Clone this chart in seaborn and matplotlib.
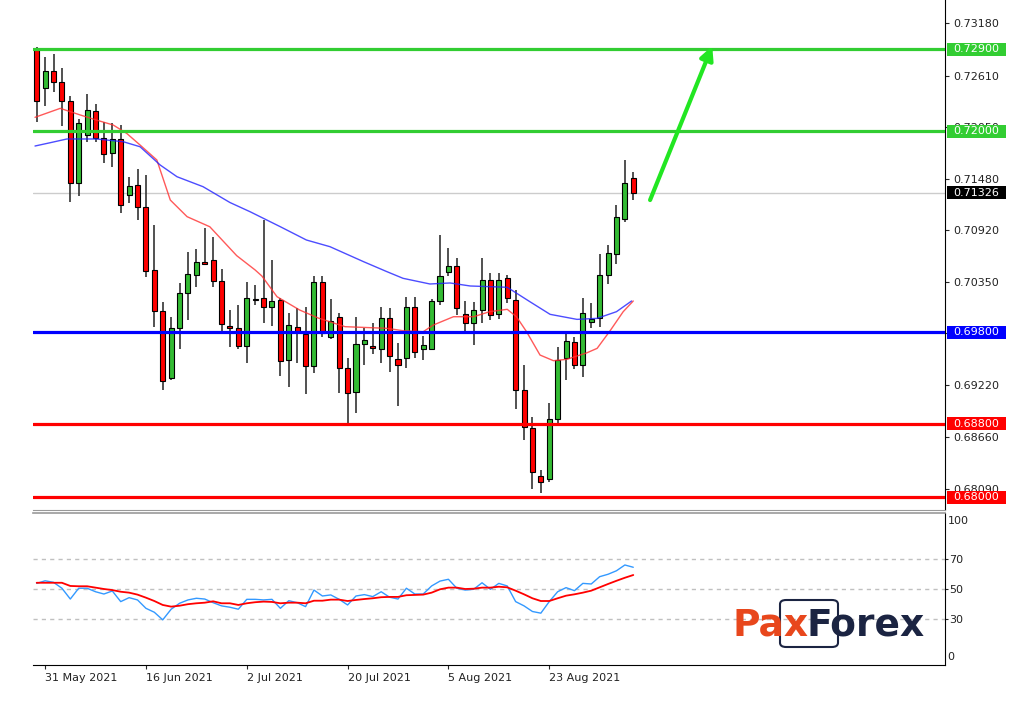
import numpy as np
import matplotlib.pyplot as plt
import seaborn as sns
from matplotlib.patches import Rectangle, FancyBboxPatch
from matplotlib.transforms import blended_transform_factory

sns.set_style('white')
plt.rcParams['font.family'] = ['DejaVu Sans']

# daily candles, 28 May 2021 -> 6 Sep 2021 (bar 0..71)
opens = [0.72889, 0.72477, 0.72663, 0.72536, 0.72335, 0.71431, 0.71959, 0.72225, 0.71923, 0.71759,
         0.71916, 0.71303, 0.71409, 0.71169, 0.70483, 0.70038, 0.69298, 0.69845, 0.70228, 0.70428,
         0.70570, 0.70592, 0.70366, 0.69873, 0.69845, 0.69651, 0.70166, 0.70180, 0.70075, 0.70155,
         0.69498, 0.69856, 0.69783, 0.69433, 0.70351, 0.69753, 0.69972, 0.69408, 0.69152, 0.69670,
         0.69651, 0.69615, 0.69961, 0.69509, 0.69517, 0.70075, 0.69615, 0.69615, 0.70144, 0.70464,
         0.70526, 0.70001, 0.69900, 0.70045, 0.70373, 0.69998, 0.70399, 0.70155, 0.69170, 0.68751,
         0.68233, 0.68193, 0.68853, 0.69517, 0.69692, 0.69444, 0.69917, 0.69954, 0.70431, 0.70658,
         0.71037, 0.71486]
highs = [0.72922, 0.72816, 0.72845, 0.72689, 0.72386, 0.72131, 0.72405, 0.72298, 0.72105, 0.72094,
         0.72069, 0.71503, 0.71584, 0.71522, 0.70975, 0.70136, 0.69972, 0.70337, 0.70676, 0.70709,
         0.70939, 0.70847, 0.70490, 0.70045, 0.70100, 0.70355, 0.70319, 0.71030, 0.70592, 0.70173,
         0.70016, 0.70064, 0.70075, 0.70417, 0.70417, 0.70162, 0.70016, 0.69517, 0.69965, 0.69845,
         0.69900, 0.70075, 0.70064, 0.69681, 0.70184, 0.70191, 0.69761, 0.70162, 0.70871, 0.70720,
         0.70614, 0.70147, 0.70136, 0.70611, 0.70453, 0.70453, 0.70428, 0.70264, 0.69444, 0.68871,
         0.68295, 0.69031, 0.69637, 0.69816, 0.69753, 0.70173, 0.70118, 0.70660, 0.70756, 0.71194,
         0.71686, 0.71558]
lows = [0.72105, 0.72280, 0.72433, 0.72058, 0.71230, 0.71292, 0.71886, 0.71886, 0.71650, 0.71613,
        0.71103, 0.71219, 0.71030, 0.70403, 0.69863, 0.69170, 0.69280, 0.69615, 0.69936, 0.70300,
        0.70534, 0.70300, 0.69808, 0.69644, 0.69615, 0.69462, 0.70100, 0.69906, 0.69870, 0.69323,
        0.69206, 0.69462, 0.69126, 0.69359, 0.69753, 0.69725, 0.69141, 0.68806, 0.68922, 0.69444,
        0.69564, 0.69462, 0.69370, 0.68995, 0.69414, 0.69517, 0.69498, 0.69608, 0.70098, 0.70417,
        0.69991, 0.69797, 0.69662, 0.69900, 0.69936, 0.69943, 0.70118, 0.68959, 0.68623, 0.68084,
        0.68047, 0.68167, 0.68806, 0.69280, 0.69397, 0.69309, 0.69845, 0.69856, 0.70330, 0.70548,
        0.71011, 0.71248]
closes = [0.72335, 0.72659, 0.72536, 0.72335, 0.71431, 0.72087, 0.72236, 0.71923, 0.71752, 0.71916,
          0.71194, 0.71402, 0.71175, 0.70475, 0.70038, 0.69272, 0.69845, 0.70228, 0.70436, 0.70570,
          0.70548, 0.70366, 0.69889, 0.69848, 0.69657, 0.70180, 0.70158, 0.70075, 0.70147, 0.69487,
          0.69881, 0.69816, 0.69433, 0.70351, 0.69797, 0.69928, 0.69408, 0.69141, 0.69673, 0.69717,
          0.69626, 0.69961, 0.69545, 0.69444, 0.70075, 0.69583, 0.69659, 0.70144, 0.70419, 0.70526,
          0.70064, 0.69906, 0.70045, 0.70373, 0.69991, 0.70373, 0.70173, 0.69170, 0.68762, 0.68270,
          0.68167, 0.68853, 0.69498, 0.69709, 0.69444, 0.70016, 0.69947, 0.70431, 0.70665, 0.71066,
          0.71431, 0.71326]
bars = np.arange(len(opens))

date_ticks = [1, 13, 25, 37, 49, 61]
date_labels = ['31 May 2021', '16 Jun 2021', '2 Jul 2021', '20 Jul 2021', '5 Aug 2021', '23 Aug 2021']

# moving averages (bar position, price)
ma_fast_x = [-0.2, 2.8, 5.2, 7.1, 9.1, 10.7, 12.3, 14.3, 15.9, 17.9, 20.6, 23.8, 26.0, 26.8, 28.6, 31.3, 33.5,
             36.7, 41.7, 43.6, 46.0, 47.2, 49.6, 52.0, 53.9, 56.0, 57.1, 58.3, 59.9, 61.5, 63.1, 65.5, 66.7,
             68.3, 69.8, 71.0]
ma_fast = [0.72153, 0.72251, 0.72178, 0.72123, 0.72069, 0.71978, 0.71850, 0.71686, 0.71248, 0.71066, 0.70956,
           0.70640, 0.70483, 0.70417, 0.70191, 0.70045, 0.69958, 0.69863, 0.69845, 0.69819, 0.69808, 0.69881,
           0.69972, 0.69972, 0.70027, 0.70053, 0.69972, 0.69808, 0.69553, 0.69491, 0.69506, 0.69578, 0.69626,
           0.69826, 0.70027, 0.70144]
ma_slow_x = [-0.2, 1.6, 3.6, 7.1, 10.3, 12.3, 14.7, 16.7, 19.8, 23.0, 25.4, 29.0, 32.1, 34.9, 38.9, 41.7, 43.6,
             46.8, 49.2, 51.6, 56.0, 58.7, 61.1, 64.3, 66.7, 69.0, 70.8]
ma_slow = [0.71839, 0.71875, 0.71916, 0.71916, 0.71886, 0.71831, 0.71631, 0.71503, 0.71394, 0.71221, 0.71120,
           0.70956, 0.70811, 0.70738, 0.70574, 0.70464, 0.70392, 0.70330, 0.70341, 0.70308, 0.70294, 0.70136,
           0.69998, 0.69943, 0.69954, 0.70027, 0.70144]

# RSI and its signal line, one value per bar
rsi = [53.7, 55.4, 54.4, 50.5, 43.4, 50.5, 50.5, 48.2, 46.7, 48.7,
       41.7, 44.3, 42.8, 37.3, 34.7, 29.7, 36.7, 40.6, 42.8, 43.9,
       43.4, 41.0, 38.9, 38.0, 36.7, 43.2, 43.2, 42.8, 43.2, 37.3,
       42.3, 41.0, 38.4, 49.3, 45.4, 46.1, 43.2, 39.5, 45.4, 46.3,
       45.0, 48.2, 44.6, 43.4, 50.5, 46.7, 46.7, 52.0, 55.2, 56.4,
       50.5, 49.3, 49.8, 54.1, 49.8, 53.7, 52.0, 41.7, 38.9, 35.2,
       34.1, 41.7, 48.2, 50.9, 48.9, 53.7, 53.3, 58.1, 59.7, 62.0,
       65.8, 64.3]
rsi_signal = [54.1, 54.1, 54.1, 54.1, 52.0, 51.8, 51.8, 50.9, 50.0, 49.3,
              48.2, 47.6, 46.3, 44.3, 42.1, 39.5, 38.4, 39.0, 40.0, 40.6,
              41.0, 41.9, 40.6, 40.6, 39.5, 40.6, 41.3, 41.7, 41.5, 40.6,
              41.0, 41.0, 40.6, 42.3, 42.3, 43.0, 43.0, 42.1, 42.8, 43.4,
              43.9, 44.6, 44.8, 44.8, 45.9, 46.1, 46.3, 47.6, 49.8, 50.9,
              50.9, 50.0, 50.2, 50.9, 50.9, 51.5, 51.1, 48.9, 46.5, 43.9,
              42.1, 42.1, 43.9, 45.6, 46.5, 47.6, 48.9, 51.1, 53.3, 55.4,
              57.4, 59.2]

levels = [0.72900, 0.72000, 0.69800, 0.68800, 0.68000]
level_colors = ['#32cd32', '#32cd32', '#0000ff', '#ff0000', '#ff0000']
last_price = 0.71326
price_ticks = [0.73180, 0.72610, 0.72050, 0.71480, 0.70920, 0.70350, 0.69790, 0.69220, 0.68660, 0.68090]
arrow_from = (73.0, 0.71248)
arrow_to = (80.4, 0.72933)

W, H = 1027, 702
fig = plt.figure(figsize=(W / 100, H / 100), dpi=100)
ax = fig.add_axes([33 / W, 1 - 510 / H, 912 / W, 510 / H])
ax_rsi = fig.add_axes([33 / W, 1 - 665 / H, 912 / W, 152 / H])

# candles
o = np.array(opens); c = np.array(closes)
ax.vlines(bars, lows, highs, color='#333333', lw=1.2, zorder=3)
body_low = np.minimum(o, c)
body_h = np.maximum(np.abs(c - o), 0.00006)
ax.bar(bars, body_h, bottom=body_low, width=0.6,
       color=['#33bb33' if cc >= oo else '#ff0000' for oo, cc in zip(o, c)],
       edgecolor='black', linewidth=0.8, zorder=4)

# moving averages
sns.lineplot(x=ma_fast_x, y=ma_fast, ax=ax, color='#ff3030', lw=1, alpha=0.8, estimator=None, sort=False, zorder=5)
sns.lineplot(x=ma_slow_x, y=ma_slow, ax=ax, color='#2020ff', lw=1, alpha=0.8, estimator=None, sort=False, zorder=5)

ax.axhline(last_price, color='#cccccc', lw=1, zorder=1)
for lvl, col in zip(levels, level_colors):
    ax.axhline(lvl, color=col, lw=2.3, zorder=6)

ax.annotate('', xy=arrow_to, xytext=arrow_from,
            arrowprops=dict(arrowstyle='-|>', color='#22e622', lw=3, mutation_scale=20,
                            shrinkA=0, shrinkB=0), zorder=7)

ax.set_xlim(-0.44, 108.1)
ax.set_ylim(0.67858, 0.73436)
ax.set_xticks([])
ax.yaxis.tick_right()
ax.set_yticks(price_ticks)
ax.set_yticklabels([f'{t:.5f}' for t in price_ticks])
ax.tick_params(axis='y', right=True, left=False, length=3, width=0.8, pad=3, labelsize=8, labelcolor='#222222')
ax.set_xlabel(''); ax.set_ylabel('')
for s in ['left', 'top']:
    ax.spines[s].set_visible(False)
ax.spines['right'].set_color('black')
ax.spines['bottom'].set_color('#999999')

# coloured price boxes on the right axis
trans = blended_transform_factory(ax.transAxes, ax.transData)
bh = 13 * (0.73436 - 0.67858) / 510
for lvl, col in list(zip(levels, level_colors)) + [(last_price, 'black')]:
    ax.add_patch(Rectangle((1.002, lvl - bh / 2), 0.065, bh, transform=trans, facecolor=col,
                           edgecolor='none', clip_on=False, zorder=10))
    ax.text(1.009, lvl, f'{lvl:.5f}', transform=trans, color='white', fontsize=8,
            va='center', ha='left', zorder=11, clip_on=False)

# RSI panel
for lv in [70, 50, 30]:
    ax_rsi.axhline(lv, color='#c0c0c0', lw=1, ls=(0, (3, 3)), zorder=1)
sns.lineplot(x=bars, y=rsi, ax=ax_rsi, color='#3399ff', lw=1, estimator=None, zorder=3)
sns.lineplot(x=bars, y=rsi_signal, ax=ax_rsi, color='#ff0000', lw=1.3, estimator=None, zorder=4)
ax_rsi.set_xlim(-0.44, 108.1)
ax_rsi.set_ylim(0, 100)
ax_rsi.yaxis.tick_right()
ax_rsi.set_yticks([70, 50, 30])
ax_rsi.tick_params(axis='y', right=True, left=False, length=2, width=0.8, pad=1, labelsize=8, labelcolor='#222222')
trans_r = blended_transform_factory(ax_rsi.transAxes, ax_rsi.transData)
ax_rsi.text(1.003, 95, '100', transform=trans_r, fontsize=8, color='#222222', va='center', ha='left')
ax_rsi.text(1.003, 5.5, '0', transform=trans_r, fontsize=8, color='#222222', va='center', ha='left')
ax_rsi.set_xticks(date_ticks)
ax_rsi.set_xticklabels(date_labels)
for lab in ax_rsi.get_xticklabels():
    lab.set_ha('left')
ax_rsi.tick_params(axis='x', bottom=True, length=3, width=0.8, pad=3, labelsize=8, labelcolor='#222222')
ax_rsi.set_xlabel(''); ax_rsi.set_ylabel('')
ax_rsi.spines['left'].set_visible(False)
ax_rsi.spines['top'].set_color('#999999')
ax_rsi.spines['top'].set_linewidth(1.2)
ax_rsi.spines['right'].set_color('black')
ax_rsi.spines['bottom'].set_color('black')

# PaxForex logo
fig.text(733 / W, 1 - 636 / H, 'Pax', color='#e8471c', fontsize=27, fontweight='bold',
         ha='left', va='baseline', zorder=20)
fig.text(925 / W, 1 - 636 / H, 'Forex', color='#1b2442', fontsize=27, fontweight='bold',
         ha='right', va='baseline', zorder=20)
fig.add_artist(FancyBboxPatch((780 / W, 1 - 647 / H), 58 / W, 47 / H,
                              boxstyle='round,pad=0,rounding_size=0.006', transform=fig.transFigure,
                              fill=False, edgecolor='#1b2442', lw=1.5, zorder=19))

fig.savefig('out.png', dpi=100)
